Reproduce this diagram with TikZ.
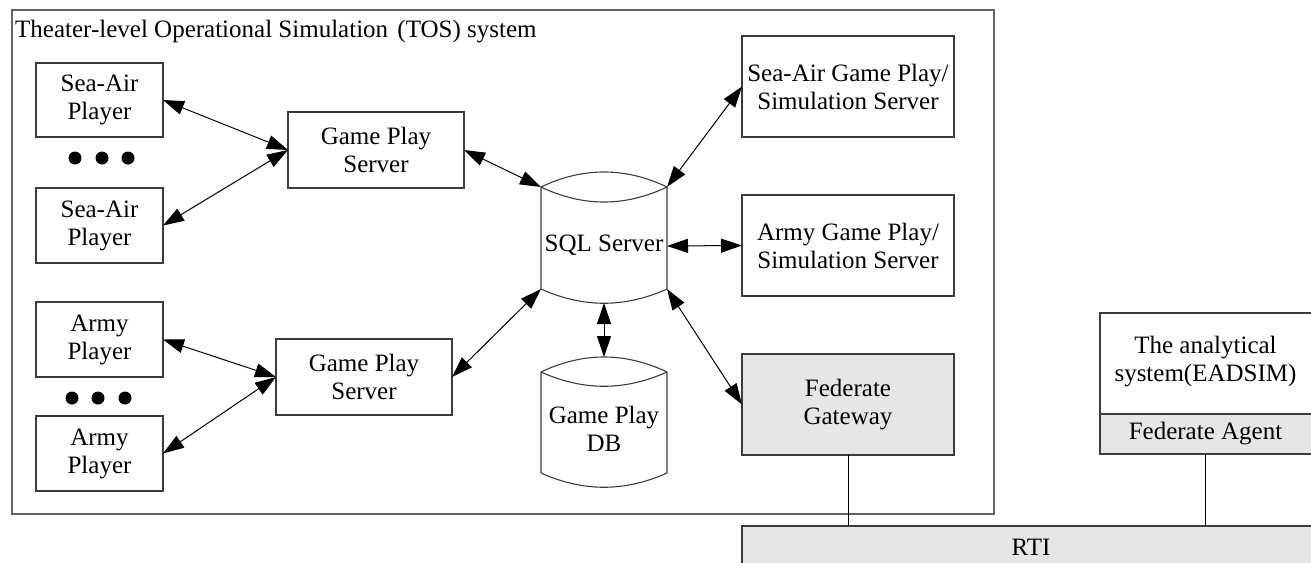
\documentclass[tikz,border=0pt]{standalone}
\usepackage{fontspec}
\setmainfont{Liberation Serif}
\usetikzlibrary{arrows.meta}
\definecolor{boxgray}{HTML}{3C3C3C}
\definecolor{fillgray}{HTML}{E6E6E6}
\begin{document}
\begin{tikzpicture}[x=1pt,y=-1pt,
  >={Triangle[length=21pt,width=14pt]},
  txt/.style={align=center, font=\fontsize{25}{28}\selectfont, inner sep=0pt},
  box/.style={draw=boxgray, line width=1.1pt, outer sep=0pt, align=center,
    font=\fontsize{25}{28}\selectfont, inner sep=0pt},
  gbox/.style={box, fill=fillgray},
  conn/.style={draw=black, line width=1pt, <->},
  plain/.style={draw=black, line width=1pt},
  cyl/.style={draw=boxgray, line width=1.1pt}]
\useasboundingbox (0,0) rectangle (1311,562);
\clip (0,0) rectangle (1311,562);

% outer TOS frame
\node[box, draw=boxgray!80, minimum width=982pt, minimum height=504pt, anchor=north west] (tos) at (12,10) {};
\node[txt, anchor=base west] (title) at (15,37) {Theater-level Operational Simulation\hspace{3pt} (TOS) system};

% players
\node[box, minimum width=127pt, minimum height=74pt] (sa1) at (99.5,100) {Sea-Air\\Player};
\node[box, minimum width=127pt, minimum height=75pt] (sa2) at (99.5,225.5) {Sea-Air\\Player};
\node[box, minimum width=127pt, minimum height=75pt] (ap1) at (99.5,339.5) {Army\\Player};
\node[box, minimum width=127pt, minimum height=75pt] (ap2) at (99.5,453.5) {Army\\Player};

\fill (75,158) circle (6.5pt) (102,158) circle (6.5pt) (128,158) circle (6.5pt);
\fill (72,398) circle (6.5pt) (98,398) circle (6.5pt) (125,398) circle (6.5pt);

% game play servers
\node[box, minimum width=176pt, minimum height=76pt] (gps1) at (376,150) {Game Play\\Server};
\node[box, minimum width=176pt, minimum height=76pt] (gps2) at (364,377) {Game Play\\Server};

% SQL server cylinder
\coordinate (sqlNW) at (541,187);
\coordinate (sqlNE) at (667,187);
\coordinate (sqlSW) at (541,289);
\coordinate (sqlSE) at (667,289);
\coordinate (sqlE) at (667,246);
\coordinate (sqlS) at (604,303);
\draw[cyl] (sqlNW) .. controls (583,167) and (625,167) .. (sqlNE);
\draw[cyl] (sqlNW) .. controls (583,207) and (625,207) .. (sqlNE);
\draw[cyl] (sqlNW) -- (sqlSW) .. controls (583,308) and (625,308) .. (sqlSE) -- (sqlNE);
\node[txt] (sql) at (604,245) {SQL Server};

% Game Play DB cylinder
\coordinate (dbNW) at (541,372);
\coordinate (dbNE) at (667,372);
\coordinate (dbSW) at (541,473);
\coordinate (dbSE) at (667,473);
\coordinate (dbN) at (604,357);
\draw[cyl] (dbNW) .. controls (583,352) and (625,352) .. (dbNE);
\draw[cyl] (dbNW) .. controls (583,391) and (625,391) .. (dbNE);
\draw[cyl] (dbNW) -- (dbSW) .. controls (583,492) and (625,492) .. (dbSE) -- (dbNE);
\node[txt] (db) at (604,429) {Game Play\\DB};

% right servers
\node[box, minimum width=212pt, minimum height=101pt] (sagps) at (848,86.5) {Sea-Air Game Play/\\Simulation Server};
\node[box, minimum width=212pt, minimum height=101pt] (agps) at (848,245.5) {Army Game Play/\\Simulation Server};
\node[gbox, minimum width=212pt, minimum height=101pt] (fg) at (848,404.5) {Federate\\Gateway};

% analytical system
\node[box, minimum width=216pt, minimum height=101pt, anchor=north west] (ana) at (1100,313) {};
\node[txt] (anat) at (1205.5,362) {The analytical\\system(EADSIM)};
\node[gbox, minimum width=216pt, minimum height=40pt, anchor=north west] (agent) at (1100,414) {};
\node[txt] (agentt) at (1205.5,434) {Federate Agent};

% RTI
\node[gbox, minimum width=600pt, minimum height=60pt, anchor=north west] (rti) at (742,526) {};
\node[txt] (rtit) at (1031,547) {RTI};

% connectors
\draw[conn] (sa1.east) -- (gps1.west);
\draw[conn] (sa2.east) -- (gps1.west);
\draw[conn] (ap1.east) -- (gps2.west);
\draw[conn] (ap2.east) -- (gps2.west);
\draw[conn] (gps1.east) -- (sqlNW);
\draw[conn] (gps2.east) -- (sqlSW);
\draw[conn] (sqlNE) -- (sagps.west);
\draw[conn] (sqlE) -- (agps.west);
\draw[conn] (sqlSE) -- (fg.west);
\draw[conn] (sqlS) -- (dbN);
\draw[plain] (fg.south) -- (fg.south |- rti.north);
\draw[plain] (agent.south -| anat.south) -- (anat.south |- rti.north);
\end{tikzpicture}
\end{document}
